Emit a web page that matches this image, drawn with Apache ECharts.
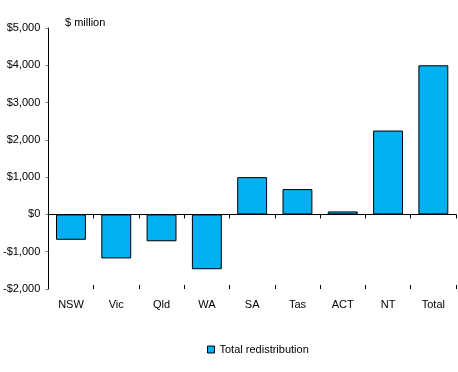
<!DOCTYPE html>
<html><head><meta charset="utf-8">
<script src="https://cdn.jsdelivr.net/npm/echarts@6/dist/echarts.min.js"></script>
<style>html,body{margin:0;padding:0;background:#fff}#c{width:458px;height:372px}</style>
</head><body><div id="c"></div>
<script>
const categories = ['NSW','Vic','Qld','WA','SA','Tas','ACT','NT','Total'];
const redistribution = [-680,-1180,-720,-1470,1000,680,80,2250,4000];
const yTicks = [-2000,-1000,0,1000,2000,3000,4000,5000];
const seriesName = 'Total redistribution';

const font = 'Liberation Sans, Arial, sans-serif';
const chart = echarts.init(document.getElementById('c'));
chart.setOption({
  animation:false,
  grid:{left:48,right:2,top:28,bottom:83},
  title:{text:'$ million',left:60,top:12,textStyle:{fontFamily:font,fontSize:11,fontWeight:'normal',color:'#000'}},
  legend:{data:[seriesName],top:339,left:202,itemWidth:7,itemHeight:7,itemGap:3,icon:'rect',
    textStyle:{fontFamily:font,fontSize:11,color:'#000'},
    itemStyle:{borderColor:'#000',borderWidth:1}},
  xAxis:[{type:'category',data:categories,
    axisLine:{onZero:true,lineStyle:{color:'#000',width:1}},
    axisTick:{show:true,length:4,lineStyle:{color:'#000'}},
    axisLabel:{interval:0,margin:10,fontFamily:font,fontSize:11,color:'#000'},
    position:'bottom'},
   {type:'category',data:categories,position:'bottom',
    axisLine:{onZero:true,show:false},
    axisTick:{show:true,inside:true,length:4,lineStyle:{color:'#000'}},
    axisLabel:{show:false}}],
  yAxis:{type:'value',min:yTicks[0],max:yTicks[yTicks.length-1],interval:1000,
    axisLine:{show:true,lineStyle:{color:'#000',width:1}},
    axisTick:{show:true,length:3,lineStyle:{color:'#888'}},
    splitLine:{show:false},
    axisLabel:{fontFamily:font,fontSize:11,color:'#000',margin:8,
      formatter:v=>(v<0?'-':'')+'$'+Math.abs(v).toLocaleString('en-US')}},
  series:[{name:seriesName,type:'bar',data:redistribution,barCategoryGap:'34%',
    itemStyle:{color:'#00B0F0',borderColor:'#000',borderWidth:1}}]
});
</script></body></html>
